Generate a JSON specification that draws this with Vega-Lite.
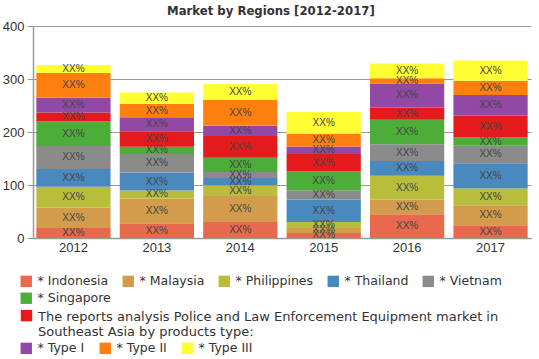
{
  "$schema": "https://vega.github.io/schema/vega-lite/v6.json",
  "autosize": {"type": "none"},
  "width": 498,
  "height": 212,
  "padding": {"left": 33, "top": 26, "right": 8, "bottom": 121},
  "background": "white",
  "title": {
    "text": "Market by Regions [2012-2017]",
    "font": "DejaVu Sans Condensed, Liberation Sans Narrow, sans-serif",
    "fontSize": 13,
    "fontWeight": "bold",
    "color": "#333333",
    "anchor": "start",
    "frame": "group",
    "dx": 134,
    "offset": 2
  },
  "data": {
    "values": [
      {"year": "2012", "series": "* Indonesia", "order": 1, "value": 19},
      {"year": "2013", "series": "* Indonesia", "order": 1, "value": 27.8},
      {"year": "2014", "series": "* Indonesia", "order": 1, "value": 30.3},
      {"year": "2015", "series": "* Indonesia", "order": 1, "value": 9.5},
      {"year": "2016", "series": "* Indonesia", "order": 1, "value": 44.9},
      {"year": "2017", "series": "* Indonesia", "order": 1, "value": 24},
      {"year": "2012", "series": "* Malaysia", "order": 2, "value": 38.6},
      {"year": "2013", "series": "* Malaysia", "order": 2, "value": 46.8},
      {"year": "2014", "series": "* Malaysia", "order": 2, "value": 49},
      {"year": "2015", "series": "* Malaysia", "order": 2, "value": 9.5},
      {"year": "2016", "series": "* Malaysia", "order": 2, "value": 27.8},
      {"year": "2017", "series": "* Malaysia", "order": 2, "value": 38},
      {"year": "2012", "series": "* Philippines", "order": 3, "value": 39},
      {"year": "2013", "series": "* Philippines", "order": 3, "value": 15},
      {"year": "2014", "series": "* Philippines", "order": 3, "value": 20},
      {"year": "2015", "series": "* Philippines", "order": 3, "value": 11.3},
      {"year": "2016", "series": "* Philippines", "order": 3, "value": 44.7},
      {"year": "2017", "series": "* Philippines", "order": 3, "value": 31.5},
      {"year": "2012", "series": "* Thailand", "order": 4, "value": 33.5},
      {"year": "2013", "series": "* Thailand", "order": 4, "value": 34},
      {"year": "2014", "series": "* Thailand", "order": 4, "value": 14},
      {"year": "2015", "series": "* Thailand", "order": 4, "value": 42.4},
      {"year": "2016", "series": "* Thailand", "order": 4, "value": 27.9},
      {"year": "2017", "series": "* Thailand", "order": 4, "value": 47.5},
      {"year": "2012", "series": "* Vietnam", "order": 5, "value": 43.6},
      {"year": "2013", "series": "* Vietnam", "order": 5, "value": 34.7},
      {"year": "2014", "series": "* Vietnam", "order": 5, "value": 11},
      {"year": "2015", "series": "* Vietnam", "order": 5, "value": 17.6},
      {"year": "2016", "series": "* Vietnam", "order": 5, "value": 31.6},
      {"year": "2017", "series": "* Vietnam", "order": 5, "value": 33.2},
      {"year": "2012", "series": "* Singapore", "order": 6, "value": 46},
      {"year": "2013", "series": "* Singapore", "order": 6, "value": 14},
      {"year": "2014", "series": "* Singapore", "order": 6, "value": 27},
      {"year": "2015", "series": "* Singapore", "order": 6, "value": 35.4},
      {"year": "2016", "series": "* Singapore", "order": 6, "value": 46},
      {"year": "2017", "series": "* Singapore", "order": 6, "value": 15.2},
      {"year": "2012", "series": "The reports analysis Police and Law Enforcement Equipment market in Southeast Asia  by products type:", "order": 7, "value": 17},
      {"year": "2013", "series": "The reports analysis Police and Law Enforcement Equipment market in Southeast Asia  by products type:", "order": 7, "value": 29},
      {"year": "2014", "series": "The reports analysis Police and Law Enforcement Equipment market in Southeast Asia  by products type:", "order": 7, "value": 41},
      {"year": "2015", "series": "The reports analysis Police and Law Enforcement Equipment market in Southeast Asia  by products type:", "order": 7, "value": 32.8},
      {"year": "2016", "series": "The reports analysis Police and Law Enforcement Equipment market in Southeast Asia  by products type:", "order": 7, "value": 23.3},
      {"year": "2017", "series": "The reports analysis Police and Law Enforcement Equipment market in Southeast Asia  by products type:", "order": 7, "value": 41.6},
      {"year": "2012", "series": "* Type I", "order": 8, "value": 28.4},
      {"year": "2013", "series": "* Type I", "order": 8, "value": 26.6},
      {"year": "2014", "series": "* Type I", "order": 8, "value": 19.6},
      {"year": "2015", "series": "* Type I", "order": 8, "value": 14},
      {"year": "2016", "series": "* Type I", "order": 8, "value": 45.5},
      {"year": "2017", "series": "* Type I", "order": 8, "value": 39},
      {"year": "2012", "series": "* Type II", "order": 9, "value": 46},
      {"year": "2013", "series": "* Type II", "order": 9, "value": 25},
      {"year": "2014", "series": "* Type II", "order": 9, "value": 48.6},
      {"year": "2015", "series": "* Type II", "order": 9, "value": 24.6},
      {"year": "2016", "series": "* Type II", "order": 9, "value": 9.5},
      {"year": "2017", "series": "* Type II", "order": 9, "value": 26.8},
      {"year": "2012", "series": "* Type III", "order": 10, "value": 15.5},
      {"year": "2013", "series": "* Type III", "order": 10, "value": 21.6},
      {"year": "2014", "series": "* Type III", "order": 10, "value": 30.3},
      {"year": "2015", "series": "* Type III", "order": 10, "value": 40.5},
      {"year": "2016", "series": "* Type III", "order": 10, "value": 28},
      {"year": "2017", "series": "* Type III", "order": 10, "value": 38}
    ]
  },
  "transform": [
    {"stack": "value", "groupby": ["year"], "sort": [{"field": "order", "order": "ascending"}], "as": ["v0", "v1"]},
    {"calculate": "(datum.v0 + datum.v1) / 2", "as": "mid"}
  ],
  "encoding": {
    "x": {
      "field": "year",
      "type": "ordinal",
      "scale": {"paddingInner": 0.11, "paddingOuter": 0.04},
      "axis": {
        "title": null,
        "labelAngle": 0,
        "labelFont": "Liberation Sans",
        "labelFontSize": 13,
        "labelColor": "#333333",
        "labelPadding": 3,
        "ticks": false,
        "domainColor": "#999999",
        "domainWidth": 1.5,
        "grid": false
      }
    },
    "y": {
      "field": "v0",
      "type": "quantitative",
      "scale": {"domain": [0, 400], "nice": false},
      "axis": {
        "title": null,
        "values": [0, 100, 200, 300, 400],
        "labelFont": "Liberation Sans",
        "labelFontSize": 13,
        "labelColor": "#333333",
        "labelPadding": 3,
        "tickSize": 6,
        "tickColor": "#999999",
        "domainColor": "#999999",
        "domainWidth": 1.5,
        "grid": true,
        "gridColor": "#999999",
        "gridWidth": 1
      }
    }
  },
  "layer": [
    {
      "transform": [{"filter": "datum.order <= 5"}],
      "mark": {"type": "bar"},
      "encoding": {
        "y2": {"field": "v1"},
        "color": {
          "field": "series",
          "type": "nominal",
          "scale": {
            "domain": ["* Indonesia", "* Malaysia", "* Philippines", "* Thailand", "* Vietnam"],
            "range": ["#E8694E", "#D29C4C", "#B8BE3C", "#4989BE", "#8B8B8B"]
          },
          "legend": {
            "orient": "none", "legendX": -13, "legendY": 249, "direction": "horizontal",
            "title": null, "padding": 0, "columnPadding": 13
          }
        }
      }
    },
    {
      "transform": [{"filter": "datum.order == 6"}],
      "mark": {"type": "bar"},
      "encoding": {
        "y2": {"field": "v1"},
        "color": {
          "field": "series",
          "type": "nominal",
          "scale": {"domain": ["* Singapore"], "range": ["#4CAE38"]},
          "legend": {"orient": "none", "legendX": -13, "legendY": 266, "direction": "horizontal", "title": null, "padding": 0}
        }
      }
    },
    {
      "transform": [{"filter": "datum.order == 7"}],
      "mark": {"type": "bar"},
      "encoding": {
        "y2": {"field": "v1"},
        "color": {
          "field": "series",
          "type": "nominal",
          "scale": {"domain": ["The reports analysis Police and Law Enforcement Equipment market in Southeast Asia  by products type:"], "range": ["#E41A1C"]},
          "legend": {
            "orient": "none", "legendX": -13, "legendY": 278, "direction": "horizontal", "title": null, "padding": 0,
            "labelExpr": "[substring(datum.label, 0, 67), substring(datum.label, 68)]",
            "labelBaseline": "top", "labelOffset": 5, "labelFontSize": 13,
            "symbolType": "M-1,-0.1H1V1.9H-1Z"
          }
        }
      }
    },
    {
      "transform": [{"filter": "datum.order >= 8"}],
      "mark": {"type": "bar"},
      "encoding": {
        "y2": {"field": "v1"},
        "color": {
          "field": "series",
          "type": "nominal",
          "scale": {"domain": ["* Type I", "* Type II", "* Type III"], "range": ["#9249A6", "#FF7F0F", "#FFFF33"]},
          "legend": {"orient": "none", "legendX": -13, "legendY": 316, "direction": "horizontal", "title": null, "padding": 0, "columnPadding": 14}
        }
      }
    },
    {
      "mark": {"type": "text", "font": "Liberation Sans", "fontSize": 10, "color": "#444444", "baseline": "middle"},
      "encoding": {
        "y": {"field": "mid", "type": "quantitative"},
        "text": {"value": "XX%"}
      }
    }
  ],
  "resolve": {"scale": {"color": "independent"}, "legend": {"color": "independent"}},
  "config": {
    "view": {"stroke": null},
    "legend": {
      "symbolType": "square",
      "symbolSize": 130,
      "symbolStrokeWidth": 0,
      "labelFont": "DejaVu Sans",
      "labelFontSize": 12.5,
      "labelColor": "#333333",
      "labelLimit": 600,
      "labelOffset": 5
    }
  }
}
